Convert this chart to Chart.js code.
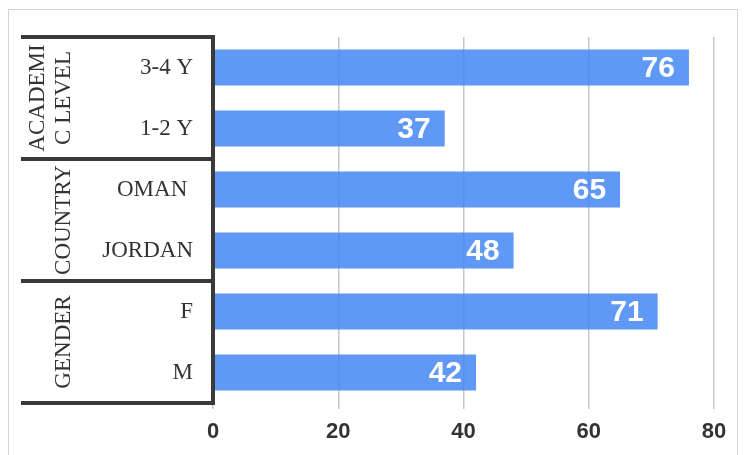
<!DOCTYPE html>
<html>
<head>
<meta charset="utf-8">
<script src="https://cdn.jsdelivr.net/npm/chart.js@4.4.1/dist/chart.umd.min.js"></script>
<style>
  html, body { margin: 0; padding: 0; background: #fff; }
  #wrap { width: 747px; height: 455px; position: relative; }
</style>
</head>
<body>
<div id="wrap"><canvas id="chart" width="747" height="455"></canvas></div>
<script>
// survey breakdown, top to bottom
const categories = ['3-4 Y', '1-2 Y', 'OMAN ', 'JORDAN', 'F', 'M'];
const values = [76, 37, 65, 48, 71, 42];
const groupNames = [['ACADEMI', 'C LEVEL'], ['COUNTRY'], ['GENDER']];
const groupSizes = [2, 2, 2];
const xTicks = [0, 20, 40, 60, 80];

const serif = '"Liberation Serif", "Times New Roman", serif';
const sans = '"Liberation Sans", Arial, sans-serif';

// light frame round the whole figure
const outerFrame = {
    id: 'outerFrame',
    beforeDraw(chart) {
        let ctx = chart.ctx;
        ctx.save();
        ctx.strokeStyle = '#d4d4d4';
        ctx.lineWidth = 1;
        ctx.strokeRect(8.5, 9.5, 729, 460);
        ctx.restore();
    }
};

// thick bracket lines and the rotated group names on the left
const groupAxis = {
    id: 'groupAxis',
    afterDraw(chart) {
        let ctx = chart.ctx;
        let y = chart.scales.y;
        let area = chart.chartArea;
        let step = y.getPixelForValue(1) - y.getPixelForValue(0);
        let left = 21;
        ctx.save();
        ctx.strokeStyle = '#3a3a3a';
        ctx.lineWidth = 4;
        ctx.lineCap = 'butt';
        // vertical axis line
        ctx.beginPath();
        ctx.moveTo(area.left, area.top - 2);
        ctx.lineTo(area.left, area.bottom + 2);
        ctx.stroke();

        let start = 0;
        groupSizes.forEach(function(size, g) {
            let top = y.getPixelForValue(start) - step / 2;
            let bottom = y.getPixelForValue(start + size - 1) + step / 2;
            ctx.beginPath();
            ctx.moveTo(left, top);
            ctx.lineTo(area.left + 2, top);
            ctx.moveTo(left, bottom);
            ctx.lineTo(area.left + 2, bottom);
            ctx.stroke();

            // group name, reading bottom to top
            let lines = groupNames[g];
            let mid = (top + bottom) / 2;
            ctx.fillStyle = '#333';
            ctx.font = '23px ' + serif;
            ctx.textAlign = 'center';
            ctx.textBaseline = 'middle';
            lines.forEach(function(text, i) {
                let x = 64 - (lines.length - 1 - i) * 26;
                ctx.save();
                ctx.translate(x, mid);
                ctx.rotate(-Math.PI / 2);
                ctx.fillText(text, 0, 0);
                ctx.restore();
            });
            start += size;
        });
        ctx.restore();
    }
};

// value written inside the end of each bar
const barValues = {
    id: 'barValues',
    afterDatasetsDraw(chart) {
        let ctx = chart.ctx;
        let meta = chart.getDatasetMeta(0);
        ctx.save();
        ctx.fillStyle = '#fff';
        ctx.font = 'bold 30px ' + sans;
        ctx.textAlign = 'right';
        ctx.textBaseline = 'middle';
        meta.data.forEach(function(bar, i) {
            ctx.fillText(values[i], bar.x - 14, bar.y + 1);
        });
        ctx.restore();
    }
};

new Chart(document.getElementById('chart'), {
    type: 'bar',
    data: {
        labels: categories,
        datasets: [{
            data: values,
            backgroundColor: 'rgba(70, 135, 244, 0.86)',
            borderWidth: 0,
            barPercentage: 0.59,
            categoryPercentage: 1
        }]
    },
    options: {
        indexAxis: 'y',
        responsive: false,
        animation: false,
        layout: { padding: { top: 37, right: 33, left: 0, bottom: 0 } },
        plugins: {
            legend: { display: false },
            tooltip: { enabled: false }
        },
        scales: {
            x: {
                min: 0,
                max: 80,
                afterBuildTicks: function(scale) {
                    scale.ticks = xTicks.map(v => ({ value: v }));
                },
                afterFit: function(scale) { scale.height = 52; },
                border: { display: false },
                grid: {
                    color: '#c6c6c6',
                    lineWidth: 1.5,
                    drawTicks: true,
                    tickLength: 6
                },
                ticks: {
                    color: '#333',
                    padding: 10,
                    maxRotation: 0,
                    font: { family: sans, size: 22, weight: 'bold' }
                }
            },
            y: {
                afterFit: function(scale) { scale.width = 213; },
                border: { display: false },
                grid: { display: false, drawTicks: false },
                ticks: {
                    autoSkip: false,
                    color: '#333',
                    padding: 20,
                    font: { family: serif, size: 23 }
                }
            }
        }
    },
    plugins: [outerFrame, groupAxis, barValues]
});
</script>
</body>
</html>
